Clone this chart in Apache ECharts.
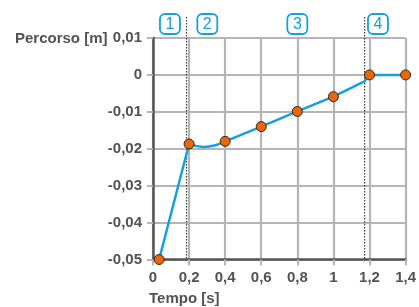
<!DOCTYPE html>
<html>
<head>
<meta charset="utf-8">
<script src="https://cdn.jsdelivr.net/npm/echarts@6/dist/echarts.min.js"></script>
<style>
html,body{margin:0;padding:0;background:#fff;}
#chart{width:419px;height:307px;}
</style>
</head>
<body>
<div id="chart"></div>
<script>
// ---- data ----
const xTickValues = [0, 0.2, 0.4, 0.6, 0.8, 1.0, 1.2, 1.4];
const xTickLabels = ['0', '0,2', '0,4', '0,6', '0,8', '1', '1,2', '1,4'];
const yTickValues = [-0.05, -0.04, -0.03, -0.02, -0.01, 0, 0.01];
const yTickLabels = ['-0,05', '-0,04', '-0,03', '-0,02', '-0,01', '0', '0,01'];

// measured points (markers)
const markerTime = [0.034, 0.2, 0.4, 0.6, 0.8, 1.0, 1.2, 1.4];
const markerPath = [-0.05, -0.0187, -0.018, -0.014, -0.0099, -0.0059, 0, 0];

// curve pieces
const riseTime = [0.034, 0.2];
const risePath = [-0.05, -0.0187];
const dipTime = [0.2, 0.28, 0.4];
const dipPath = [-0.0187, -0.0195, -0.018];
const rampTime = [0.4, 0.6, 0.8, 1.0, 1.175, 1.185, 1.2, 1.4];
const rampPath = [-0.018, -0.014, -0.0099, -0.0059, -0.0017, -0.0003, 0, 0];

// phase boundaries and phase labels
const phaseBoundaries = [0.186, 1.173];
const phaseLabels = ['1', '2', '3', '4'];
const phaseLabelTime = [0.094, 0.301, 0.8, 1.247];

const xAxisTitle = 'Tempo [s]';
const yAxisTitle = 'Percorso [m]';

// ---- chart ----
const FONT = '"Liberation Sans", Arial, Helvetica, sans-serif';
const TEXT = '#525252';
const GRID = '#b5b5b5';
const AXIS = '#555555';
const BLUE = '#159fe0';
const Y_TOP = 0.01;

const zip = (a, b) => a.map((v, i) => [v, b[i]]);

const chart = echarts.init(document.getElementById('chart'), null, {renderer: 'canvas'});

const labelFor = (vals, labels) => v => {
  let best = 0;
  for (let i = 1; i < vals.length; i++) if (Math.abs(vals[i] - v) < Math.abs(vals[best] - v)) best = i;
  return labels[best];
};

chart.setOption({
  animation: false,
  backgroundColor: '#ffffff',
  title: [
    {text: yAxisTitle, left: 15, top: 30, padding: 0,
     textStyle: {fontFamily: FONT, fontSize: 15, fontWeight: 'bold', color: TEXT, lineHeight: 17}},
    {text: xAxisTitle, left: 149, top: 290, padding: 0,
     textStyle: {fontFamily: FONT, fontSize: 15, fontWeight: 'bold', color: TEXT, lineHeight: 17}}
  ],
  grid: {left: 153, right: 9, top: 38, bottom: 47.5, containLabel: false},
  xAxis: {
    type: 'value', min: 0, max: 1.4, interval: 0.2,
    axisLine: {show: true, onZero: false, lineStyle: {color: AXIS, width: 2.5}},
    axisTick: {show: true, length: 6, lineStyle: {color: GRID, width: 2}},
    splitLine: {show: true, lineStyle: {color: GRID, width: 2.2}},
    axisLabel: {margin: 11, fontFamily: FONT, fontSize: 15, fontWeight: 'bold', color: TEXT,
                formatter: labelFor(xTickValues, xTickLabels)}
  },
  yAxis: {
    type: 'value', min: -0.05, max: 0.01, interval: 0.01,
    axisLine: {show: true, onZero: false, lineStyle: {color: AXIS, width: 2.5}},
    axisTick: {show: true, length: 6, lineStyle: {color: GRID, width: 2}},
    splitLine: {show: true, lineStyle: {color: GRID, width: 2.2}},
    axisLabel: {margin: 11, fontFamily: FONT, fontSize: 15, fontWeight: 'bold', color: TEXT,
                formatter: labelFor(yTickValues, yTickLabels)}
  },
  series: [
    {
      type: 'custom', clip: false, z: 3, silent: true,
      data: phaseBoundaries.map(v => [v]),
      renderItem: (params, api) => {
        const x = api.value(0);
        const top = api.coord([x, Y_TOP]);
        const bot = api.coord([x, -0.05]);
        return {type: 'line',
          shape: {x1: top[0], y1: top[1] - 21, x2: bot[0], y2: bot[1]},
          style: {stroke: '#3a3a3a', lineWidth: 1.2, lineDash: [1.5, 1.5]}};
      }
    },
    {
      type: 'custom', clip: false, z: 6, silent: true,
      data: phaseLabelTime.map((v, i) => [v, i]),
      renderItem: (params, api) => {
        const c = api.coord([api.value(0), Y_TOP]);
        const cx = c[0], cy = c[1] - 14;
        const txt = phaseLabels[api.value(1)];
        return {type: 'group', children: [
          {type: 'rect', shape: {x: cx - 10, y: cy - 10, width: 20, height: 20, r: 5},
           style: {fill: '#fff', stroke: BLUE, lineWidth: 1.8}},
          {type: 'text', style: {text: txt, x: cx, y: cy + 1, align: 'center', verticalAlign: 'middle',
            textAlign: 'center', textVerticalAlign: 'middle', fill: BLUE, font: '16px ' + FONT}}
        ]};
      }
    },
    {type: 'line', data: zip(riseTime, risePath), showSymbol: false, z: 4,
     lineStyle: {color: BLUE, width: 2.5}},
    {type: 'line', data: zip(dipTime, dipPath), showSymbol: false, smooth: 0.5, z: 4,
     lineStyle: {color: BLUE, width: 2.5}},
    {type: 'line', data: zip(rampTime, rampPath), showSymbol: false, z: 4,
     lineStyle: {color: BLUE, width: 2.5}},
    {type: 'scatter', data: zip(markerTime, markerPath), symbol: 'circle', symbolSize: 10, z: 5,
     clip: false,
     itemStyle: {color: '#e8660c', borderColor: '#3a2412', borderWidth: 1, opacity: 1}}
  ]
});
</script>
</body>
</html>
